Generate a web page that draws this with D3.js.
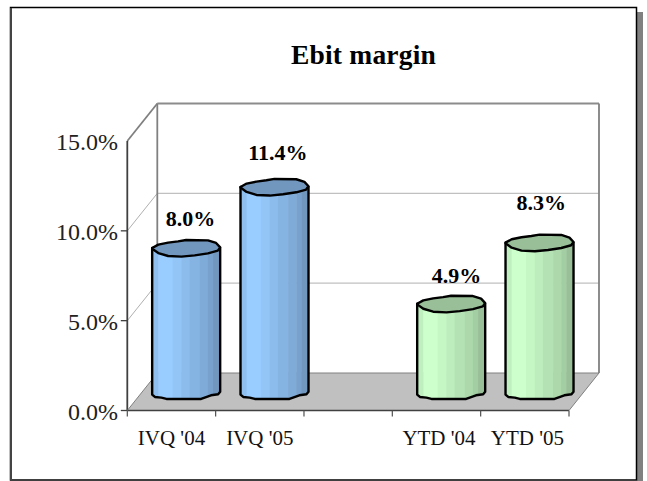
<!DOCTYPE html>
<html><head><meta charset="utf-8">
<script src="https://cdn.jsdelivr.net/npm/d3@7"></script>
<style>html,body{margin:0;padding:0;background:#fff}svg{display:block}text{font-family:"Liberation Serif",serif;fill:#000}</style>
</head><body><svg id="c" width="647" height="481"></svg>
<script>
const categories = ["IVQ '04","IVQ '05","","YTD '04","YTD '05"];
const values = [8.0,11.4,null,4.9,8.3];
const valueLabels = ["8.0%","11.4%","","4.9%","8.3%"];
const tickValues = [0,5,10,15];
const tickLabels = ["0.0%","5.0%","10.0%","15.0%"];
const title = "Ebit margin";

const svg = d3.select("#c");
const W = {x0:127.3,x1:569,y0:410.5,y1:141,dx:30,dy:-37.5};
const x = d3.scaleBand().domain(d3.range(categories.length)).range([W.x0,W.x1]);
const y = d3.scaleLinear().domain([0,15]).range([W.y0,W.y1]);

// frame
svg.append("rect").attr("x",637).attr("y",12).attr("width",6).attr("height",469).attr("fill","#808080");
svg.append("rect").attr("x",10.5).attr("y",7.5).attr("width",626).attr("height",472.5).attr("fill","#fff").attr("stroke","#000").attr("stroke-width",1.5);
svg.append("rect").attr("x",10).attr("y",8).attr("width",2).attr("height",472).attr("fill","#444");

const line = (a,b,c,w)=>svg.append("line").attr("x1",a[0]).attr("y1",a[1]).attr("x2",b[0]).attr("y2",b[1]).attr("stroke",c).attr("stroke-width",w);
const D=[W.dx,W.dy];
svg.append("polygon").attr("fill","#c0c0c0").attr("points",[[W.x0,W.y0],[W.x0+D[0],W.y0+D[1]],[W.x1+D[0],W.y0+D[1]],[W.x1,W.y0]].join(" "));
tickValues.slice(1,-1).forEach(t=>{
  line([W.x0,y(t)],[W.x0+D[0],y(t)+D[1]],"#b0b0b0",1);
  line([W.x0+D[0],y(t)+D[1]],[W.x1+D[0],y(t)+D[1]],"#c0c0c0",1.3);
});
line([W.x0,W.y1],[W.x0+D[0],W.y1+D[1]],"#808080",1.8);
line([W.x0+D[0],W.y1+D[1]],[W.x1+D[0],W.y1+D[1]],"#8c8c8c",1.8);
line([W.x0+D[0],W.y1+D[1]],[W.x0+D[0],W.y0+D[1]],"#808080",1.8);
line([W.x1+D[0],W.y1+D[1]],[W.x1+D[0],W.y0+D[1]],"#808080",1.8);
line([W.x0+D[0],W.y0+D[1]],[W.x1+D[0],W.y0+D[1]],"#808080",1);
line([W.x0,W.y1],[W.x0,W.y0],"#404040",1.8);
line([W.x0,W.y0],[W.x1,W.y0],"#404040",1.3);
line([W.x0,W.y0],[W.x0+D[0],W.y0+D[1]],"#808080",1);
line([W.x1,W.y0],[W.x1+D[0],W.y0+D[1]],"#808080",1);
tickValues.forEach((t,i)=>{
  if(t<15) line([W.x0-6.5,y(t)],[W.x0,y(t)],"#404040",1.3);
  svg.append("text").attr("x",118).attr("y",y(t)+9).attr("text-anchor","end").attr("font-size",24).style("fill","#222").text(tickLabels[i]);
});
d3.range(categories.length+1).forEach(i=>{
  const px = W.x0+i*x.bandwidth();
  line([px,W.y0],[px,W.y0+6],"#505050",1.2);
});
categories.forEach((c,i)=>{
  svg.append("text").attr("x",x(i)+x.bandwidth()/2+(i>2?2.5:0)).attr("y",445).attr("text-anchor","middle").attr("font-size",21).style("fill","#111").text(c);
});

// cylinders
const palette = {
  blue:{strips:["#8fbfef","#99ccff","#93c5f7","#8cbcec","#86b4e2","#7fabd8","#79a1cd","#7297bf"],top:"#7297bf"},
  green:{strips:["#bfefbf","#ccffcc","#c5f7c5","#bdecbd","#b5e2b5","#acd8ac","#a3cda3","#99bf99"],top:"#99bf99"}
};
const stripEdges=[0,.09,.3,.43,.55,.7,.82,.895,1];
const topOutline=[[-1,0],[-.82,-.42],[-.53,-.67],[-.24,-.83],[0,-1],[.64,-.96],[.88,-.63],[1,-.08],[.93,.33],[.64,.67],[.25,.92],[-.14,1.08],[-.53,1],[-.82,.63],[-1,.08]];
const bottomOutline=[[-1,.35],[-.92,.65],[-.73,.73],[-.58,.9],[.44,.9],[.73,.44],[.94,.31],[1,0]];
const RX=34,RY=8;
const smooth=d3.line();
values.forEach((v,i)=>{
  if(v==null) return;
  const pal = i<2?palette.blue:palette.green;
  const cx = x(i)+x.bandwidth()/2+D[0]/2-.3, yt = y(v)+D[1]/2, yb = y(0)+D[1]/2;
  const g = svg.append("g");
  const P=(a,yc)=>[cx+a[0]*RX,yc+a[1]*RY];
  const bodyPts=[[cx-RX,yt],...bottomOutline.map(a=>P(a,yb)),[cx+RX,yt]];
  const bodyPath=smooth(bodyPts)+"Z";
  const id="cl"+i;
  svg.append("clipPath").attr("id",id).append("path").attr("d",bodyPath);
  const strips=g.append("g").attr("clip-path",`url(#${id})`);
  pal.strips.forEach((c,k)=>{
    strips.append("rect").attr("x",cx-RX+stripEdges[k]*2*RX).attr("width",(stripEdges[k+1]-stripEdges[k])*2*RX+.5).attr("y",yt-1).attr("height",yb-yt+12).attr("fill",c);
  });
  g.append("path").attr("d",bodyPath).attr("fill","none").attr("stroke","#000").attr("stroke-width",2.4).attr("stroke-linejoin","round");
  g.append("path").attr("d",smooth(topOutline.map(a=>P(a,yt)))+"Z").attr("fill",pal.top).attr("stroke","#000").attr("stroke-width",2.4).attr("stroke-linejoin","round");
});

// value labels
const labelLift=[22,27,0,21,33], labelShift=[4,3,0,5,1.5];
values.forEach((v,i)=>{
  if(v==null) return;
  svg.append("text").attr("x",x(i)+x.bandwidth()/2+D[0]/2+labelShift[i]).attr("y",y(v)+D[1]/2-labelLift[i]).attr("text-anchor","middle").attr("font-size",22).attr("font-weight","bold").text(valueLabels[i]);
});
svg.append("text").attr("x",363.5).attr("y",64).attr("text-anchor","middle").attr("font-size",27.5).attr("letter-spacing",.2).attr("font-weight","bold").text(title);
</script></body></html>
